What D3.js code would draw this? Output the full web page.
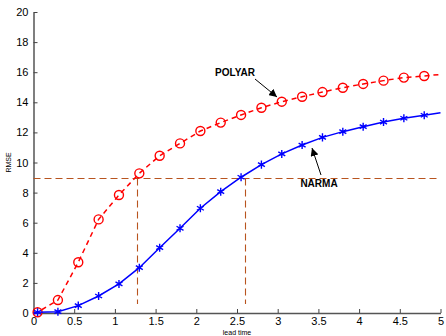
<!DOCTYPE html>
<html>
<head>
<meta charset="utf-8">
<script src="https://cdnjs.cloudflare.com/ajax/libs/d3/7.8.5/d3.min.js"></script>
<style>
body { margin: 0; background: white; }
text { font-family: "Liberation Sans", Arial, sans-serif; }
</style>
</head>
<body>
<div id="chart"></div>
<script>
var w = 446;
var h = 336;

// lead times where markers are drawn
var leadTime = [0.05, 0.3, 0.55, 0.8, 1.05, 1.3, 1.55, 1.8, 2.05, 2.3,
                2.55, 2.8, 3.05, 3.3, 3.55, 3.8, 4.05, 4.3, 4.55, 4.8];
var polyar = [0.05, 0.86, 3.37, 6.22, 7.84, 9.28, 10.45, 11.27, 12.09, 12.65,
              13.16, 13.64, 14.04, 14.37, 14.68, 14.97, 15.22, 15.44, 15.64, 15.75];
var narma = [0.05, 0.09, 0.49, 1.13, 1.93, 3.01, 4.34, 5.63, 6.96, 8.06,
             9.02, 9.86, 10.57, 11.16, 11.67, 12.05, 12.38, 12.69, 12.94, 13.14];
// line ends at lead time 0 and 5
var polyarEnds = [0, 15.85];
var narmaEnds = [0, 13.3];

var xTicks = [0, 0.5, 1, 1.5, 2, 2.5, 3, 3.5, 4, 4.5, 5];
var yTicks = [0, 2, 4, 6, 8, 10, 12, 14, 16, 18, 20];

// threshold guide: RMSE 9 reached at these lead times
var threshold = 9;
var crossings = [1.275, 2.6];

var svg = d3.select("#chart")
    .append("svg")
    .attr("width", w)
    .attr("height", h);

var xScale = d3.scaleLinear().domain([0, 5]).range([33.5, 440.5]);
var yScale = d3.scaleLinear().domain([0, 20]).range([313, 12]);

var xAxis = d3.axisBottom(xScale)
    .tickValues(xTicks)
    .tickSizeInner(-4)
    .tickSizeOuter(0)
    .tickPadding(4)
    .tickFormat(d => d);
var yAxis = d3.axisLeft(yScale)
    .tickValues(yTicks)
    .tickSizeInner(-4)
    .tickSizeOuter(0)
    .tickPadding(5);

var gx = svg.append("g")
    .attr("transform", "translate(0," + yScale(0) + ")")
    .call(xAxis);
var gy = svg.append("g")
    .attr("transform", "translate(" + xScale(0) + ",0)")
    .call(yAxis);

[gx, gy].forEach(function(g) {
    g.select(".domain").attr("stroke", "#555").attr("stroke-width", 1.5);
    g.selectAll(".tick line").attr("stroke", "#444");
    g.selectAll(".tick text").attr("fill", "black").style("font-size", "11px");
});

svg.append("text")
    .attr("x", xScale(2.5))
    .attr("y", 335)
    .attr("text-anchor", "middle")
    .style("font-size", "7px")
    .text("lead time");

svg.append("text")
    .attr("transform", "translate(11," + yScale(10) + ") rotate(-90)")
    .attr("text-anchor", "middle")
    .style("font-size", "7px")
    .text("RMSE");

// brown dashed guides
var guideColor = "#b8541f";
var yGuide = Math.round(yScale(threshold)) + 0.5;
svg.append("line")
    .attr("x1", xScale(0)).attr("x2", xScale(5))
    .attr("y1", yGuide).attr("y2", yGuide)
    .attr("stroke", guideColor).attr("stroke-width", 1.1)
    .attr("stroke-dasharray", "7,4");
svg.selectAll(".vguide")
    .data(crossings)
    .join("line")
    .attr("class", "vguide")
    .attr("x1", d => Math.round(xScale(d)) + 0.5).attr("x2", d => Math.round(xScale(d)) + 0.5)
    .attr("y1", yGuide).attr("y2", yScale(0.6))
    .attr("stroke", guideColor).attr("stroke-width", 1.1)
    .attr("stroke-dasharray", "7,4");

function series(vals, ends) {
    var pts = [[0, ends[0]]];
    leadTime.forEach(function(t, i) { pts.push([t, vals[i]]); });
    pts.push([5, ends[1]]);
    return pts;
}

var line = d3.line()
    .x(d => xScale(d[0]))
    .y(d => yScale(d[1]));

// POLYAR
svg.append("path")
    .datum(series(polyar, polyarEnds))
    .attr("d", line)
    .attr("fill", "none")
    .attr("stroke", "red")
    .attr("stroke-width", 1.5)
    .attr("stroke-dasharray", "5,4");

svg.selectAll(".circ")
    .data(polyar)
    .join("circle")
    .attr("class", "circ")
    .attr("cx", (d, i) => xScale(leadTime[i]))
    .attr("cy", d => yScale(d))
    .attr("r", 4.5)
    .attr("fill", "none")
    .attr("stroke", "red")
    .attr("stroke-width", 1.4);

// NARMA
svg.append("path")
    .datum(series(narma, narmaEnds))
    .attr("d", line)
    .attr("fill", "none")
    .attr("stroke", "blue")
    .attr("stroke-width", 1.5);

var star = d3.symbol().type(d3.symbolAsterisk).size(45);
svg.selectAll(".star")
    .data(narma)
    .join("path")
    .attr("class", "star")
    .attr("transform", (d, i) => "translate(" + xScale(leadTime[i]) + "," + yScale(d) + ")")
    .attr("d", star)
    .attr("fill", "none")
    .attr("stroke", "blue")
    .attr("stroke-width", 1.4);

// annotations
svg.append("defs").append("marker")
    .attr("id", "arrow")
    .attr("viewBox", "0 0 10 10")
    .attr("refX", 10).attr("refY", 5)
    .attr("markerWidth", 8).attr("markerHeight", 8)
    .attr("markerUnits", "userSpaceOnUse")
    .attr("orient", "auto")
    .append("path")
    .attr("d", "M0,0 L10,5 L0,10 z")
    .attr("fill", "black");

var notes = [
    { label: "POLYAR", tx: 235, ty: 76, x1: 255, y1: 79, x2: 277, y2: 97 },
    { label: "NARMA", tx: 319, ty: 187, x1: 321, y1: 175, x2: 312, y2: 148 }
];

svg.selectAll(".note-line")
    .data(notes)
    .join("line")
    .attr("class", "note-line")
    .attr("x1", d => d.x1).attr("y1", d => d.y1)
    .attr("x2", d => d.x2).attr("y2", d => d.y2)
    .attr("stroke", "black").attr("stroke-width", 1)
    .attr("marker-end", "url(#arrow)");

svg.selectAll(".note")
    .data(notes)
    .join("text")
    .attr("class", "note")
    .attr("x", d => d.tx)
    .attr("y", d => d.ty)
    .attr("text-anchor", "middle")
    .style("font-size", "10px")
    .style("font-weight", "bold")
    .text(d => d.label);
</script>
</body>
</html>
